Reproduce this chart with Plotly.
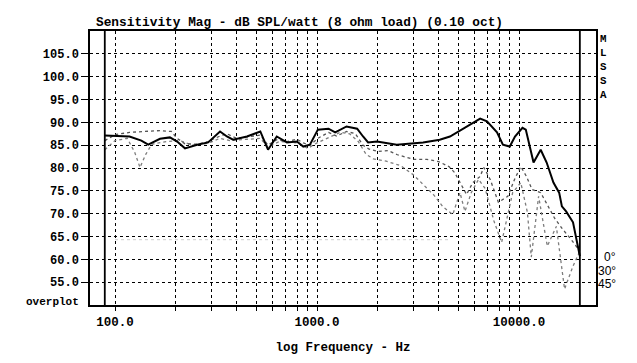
import plotly.graph_objects as go

# ---- data ----
freq_0 = [89, 100, 118, 135, 146, 167, 187, 203, 222, 255, 289, 331, 358, 384, 450, 524, 572, 632, 710, 795,
          855, 922, 1010, 1140, 1230, 1400, 1500, 1580, 1690, 1790, 1980, 2480, 3350, 4050, 4550, 5520, 6420,
          6940, 7780, 8320, 9000, 9550, 10400, 10800, 11800, 12800, 13700, 14800, 15800, 16300, 17100, 18500,
          19600, 20000]
spl_0 = [87.1, 87.0, 86.9, 86.0, 85.1, 86.4, 86.7, 85.8, 84.3, 85.1, 85.6, 88.0, 86.9, 86.2, 86.9, 88.0, 84.0,
         86.9, 85.6, 85.8, 84.7, 85.1, 88.4, 88.6, 87.8, 89.1, 88.9, 88.6, 86.9, 85.6, 85.8, 85.1, 85.6, 86.2,
         86.9, 89.1, 90.8, 90.2, 87.8, 85.1, 84.7, 86.9, 88.8, 88.4, 81.2, 84.0, 81.2, 76.8, 74.6, 71.6, 70.5,
         68.1, 62.9, 60.7]

freq_30 = [89, 100, 118, 140, 167, 190, 203, 222, 255, 289, 331, 358, 400, 450, 524, 572, 632, 710, 795, 855,
           922, 1010, 1140, 1250, 1400, 1550, 1690, 1800, 2000, 2250, 2500, 3000, 3500, 4000, 4500, 4800, 5200,
           5500, 5900, 6400, 6700, 7200, 7900, 8800, 9500, 10200, 10900, 11600, 12800, 13900, 15000, 16500,
           18000, 20000]
spl_30 = [86.0, 87.3, 87.8, 88.0, 88.2, 88.0, 86.5, 85.3, 85.2, 85.8, 87.0, 87.5, 86.5, 86.8, 87.2, 85.0, 86.2,
          85.8, 86.3, 85.5, 85.0, 86.5, 87.8, 87.0, 88.0, 87.5, 85.0, 84.2, 83.6, 83.8, 82.9, 81.9, 81.9, 81.4,
          80.3, 79.0, 76.0, 74.2, 76.8, 78.1, 80.1, 77.5, 72.5, 73.8, 77.5, 80.3, 78.1, 75.3, 74.6, 71.6, 69.0,
          66.5, 64.5, 61.8]

freq_45 = [89, 100, 115, 125, 133, 142, 152, 180, 210, 240, 289, 331, 370, 450, 524, 572, 650, 800, 900, 1000,
           1150, 1300, 1450, 1600, 1750, 1900, 2200, 2600, 3000, 3400, 3800, 4200, 4700, 5100, 5400, 5800, 6300,
           6800, 7500, 8200, 8800, 9300, 10200, 11000, 11500, 12500, 13800, 15300, 16800, 18500, 20000]
spl_45 = [84.0, 86.0, 86.5, 83.5, 80.1, 83.0, 85.2, 85.8, 86.0, 85.0, 85.4, 86.5, 86.0, 86.2, 86.5, 84.6, 85.8,
          85.5, 84.3, 85.5, 86.8, 87.8, 87.5, 85.8, 83.0, 82.0, 81.5, 80.5, 78.5, 76.0, 74.0, 71.5, 69.8, 74.6,
          70.5, 74.6, 77.5, 75.5, 68.5, 63.7, 70.0, 74.6, 76.8, 70.3, 60.5, 73.8, 62.9, 67.2, 53.5, 58.5, 61.8]

faint_freq = [100, 4500]
faint_spl = [64.3, 64.3]

data_limits = [89, 20000]

y_ticks = [55, 60, 65, 70, 75, 80, 85, 90, 95, 100, 105]
x_major = [100, 1000, 10000]
x_major_text = ["100.0", "1000.0", "10000.0"]
x_minor = [m * d for d in (100, 1000) for m in range(2, 10)]

legend_labels = ["0°", "30°", "45°"]
side_letters = ["M", "L", "S", "S", "A"]

MONO = "Liberation Mono"

fig = go.Figure()

fig.add_trace(go.Scatter(x=faint_freq, y=faint_spl, mode="lines",
                         line=dict(color="#cfcfcf", width=1, dash="dot"), hoverinfo="skip"))
fig.add_trace(go.Scatter(x=freq_45, y=spl_45, mode="lines",
                         line=dict(color="#7d7d7d", width=1.3, dash="dot"), name="45"))
fig.add_trace(go.Scatter(x=freq_30, y=spl_30, mode="lines",
                         line=dict(color="#555555", width=1.3, dash="dot"), name="30"))
fig.add_trace(go.Scatter(x=freq_0, y=spl_0, mode="lines",
                         line=dict(color="black", width=2), name="0"))
for f in data_limits:
    fig.add_trace(go.Scatter(x=[f, f], y=[50, 110], mode="lines",
                             line=dict(color="black", width=1.8), hoverinfo="skip"))

fig.update_layout(
    width=637, height=363,
    margin=dict(l=90, r=41, t=31, b=58),
    paper_bgcolor="white", plot_bgcolor="white",
    showlegend=False,
    font=dict(family=MONO, color="black", size=12),
)

fig.update_xaxes(
    type="log", range=[1.8762, 4.381],
    tickmode="array", tickvals=x_major, ticktext=x_major_text,
    tickfont=dict(family=MONO, size=12.5, weight="bold"),
    ticks="outside", ticklen=4, tickcolor="black",
    showgrid=True, gridcolor="black", griddash="dot", gridwidth=1,
    minor=dict(tickmode="array", tickvals=x_minor, showgrid=True, gridcolor="black",
               griddash="dot", gridwidth=1, ticks="outside", ticklen=4, tickcolor="black"),
    showline=True, linecolor="black", linewidth=1.5, mirror=True,
    zeroline=False,
    title=dict(text="log Frequency - Hz", font=dict(family=MONO, size=12.5, weight="bold"), standoff=13),
)

fig.update_yaxes(
    range=[50, 110],
    tickmode="array", tickvals=y_ticks, ticktext=[f"{v:.1f}" for v in y_ticks],
    tickfont=dict(family=MONO, size=12, weight="bold"),
    ticks="outside", ticklen=7, tickcolor="black",
    showgrid=True, gridcolor="black", griddash="dot", gridwidth=1,
    showline=True, linecolor="black", linewidth=1.5, mirror=True,
    zeroline=False,
)

# title
fig.add_annotation(text="Sensitivity Mag - dB SPL/watt (8 ohm load) (0.10 oct)",
                   xref="paper", yref="paper", x=(94 - 90) / 506, y=1 + (31 - 22) / 274,
                   xanchor="left", yanchor="middle", showarrow=False,
                   font=dict(family=MONO, size=12.8, weight="bold"))
# overplot
fig.add_annotation(text="overplot", xref="paper", yref="paper",
                   x=(81 - 90) / 506, y=(305 - 302) / 274, xanchor="right", yanchor="middle",
                   showarrow=False, font=dict(family=MONO, size=11, weight="bold"))
# MLSSA letters (one stacked text)
fig.add_annotation(text="<br>".join(side_letters), xref="paper", yref="paper",
                   x=(603 - 90) / 506, y=(305 - 31) / 274, xanchor="center", yanchor="top",
                   showarrow=False, align="center", font=dict(family=MONO, size=10.8, weight="bold"))
# angle legend
for i, lab in enumerate(legend_labels):
    ypx = 257 + i * 13.5
    fig.add_annotation(text=lab, xref="paper", yref="paper",
                       x=(618 - 90) / 506, y=(305 - ypx) / 274, xanchor="right", yanchor="middle",
                       showarrow=False, font=dict(family="Liberation Sans", size=12))

fig.write_html("out.html")
